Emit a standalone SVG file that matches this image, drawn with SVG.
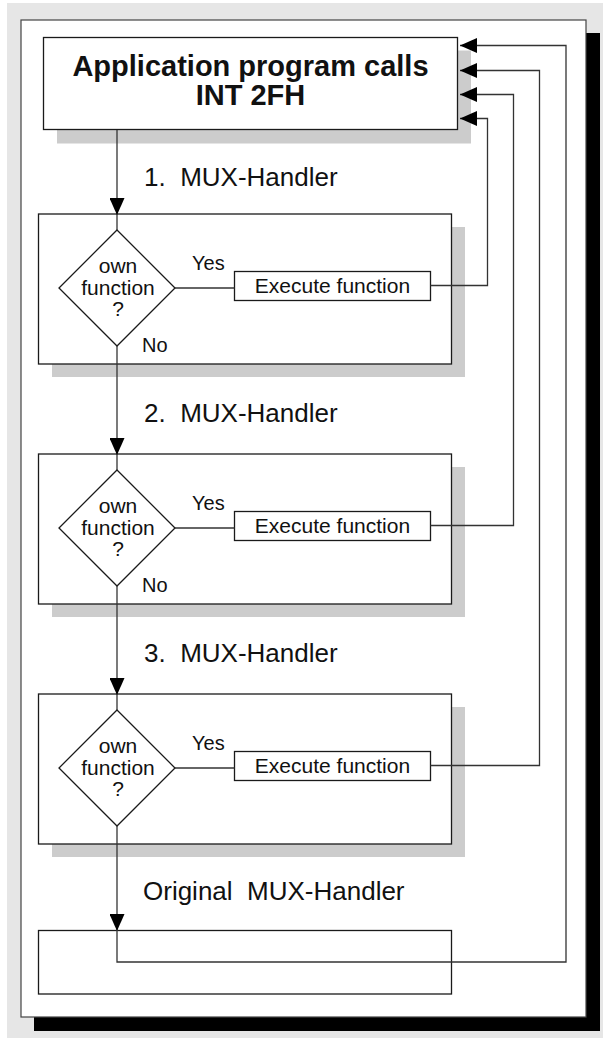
<svg xmlns="http://www.w3.org/2000/svg" width="603" height="1038" viewBox="0 0 603 1038">
<style>
.box{fill:#fff;stroke:#1a1a1a;stroke-width:1.3}
.shadow{fill:#cccccc}
.conn{fill:none;stroke:#333;stroke-width:1.3}
.t{font-family:"Liberation Sans",Arial,sans-serif;fill:#111}
.title{font-size:29px;font-weight:bold;text-anchor:middle}
.mux{font-size:26px;white-space:pre}
.dia{font-size:21px;text-anchor:middle}
.lbl{font-size:20px}
.exec{font-size:21px;text-anchor:middle}
</style>
<defs>
<marker id="arr" markerUnits="userSpaceOnUse" viewBox="0 0 17 15" refX="17" refY="7.5" markerWidth="17" markerHeight="15" orient="auto">
<path d="M0,0 L17,7.5 L0,15 Z" fill="#000"/>
</marker>
</defs>
<rect x="7" y="3" width="596" height="1035" fill="#e6e6e6"/>
<rect x="34" y="33" width="566" height="998" fill="#000"/>
<rect x="21" y="20" width="565" height="997" fill="#fff" stroke="#444" stroke-width="1.2"/>

<g id="app">
<rect class="shadow" x="57" y="50.5" width="414" height="93"/>
<rect class="box" x="43.5" y="37.5" width="414" height="92"/>
<text class="t title" x="250.5" y="76">Application program calls</text>
<text class="t title" x="250.5" y="105">INT 2FH</text>
</g>

<g id="handler1">
<rect class="shadow" x="52" y="227" width="413" height="150"/>
<rect class="box" x="38.5" y="214" width="413" height="150"/>
<path class="box" d="M117,230 L175,288 L117,346 L59,288 Z"/>
<text class="t dia" x="118" y="273">own</text>
<text class="t dia" x="118" y="295">function</text>
<text class="t dia" x="118" y="316">?</text>
<text class="t lbl" x="192" y="270">Yes</text>
<text class="t lbl" x="142" y="352">No</text>
<rect class="box" x="234.5" y="271.5" width="196" height="29"/>
<text class="t exec" x="332.5" y="293">Execute function</text>
</g>

<g id="handler2">
<rect class="shadow" x="52" y="467" width="413" height="150"/>
<rect class="box" x="38.5" y="454" width="413" height="150"/>
<path class="box" d="M117,470 L175,528 L117,586 L59,528 Z"/>
<text class="t dia" x="118" y="513">own</text>
<text class="t dia" x="118" y="535">function</text>
<text class="t dia" x="118" y="556">?</text>
<text class="t lbl" x="192" y="510">Yes</text>
<text class="t lbl" x="142" y="592">No</text>
<rect class="box" x="234.5" y="511.5" width="196" height="29"/>
<text class="t exec" x="332.5" y="533">Execute function</text>
</g>

<g id="handler3">
<rect class="shadow" x="52" y="707" width="413" height="150"/>
<rect class="box" x="38.5" y="694" width="413" height="150"/>
<path class="box" d="M117,710 L175,768 L117,826 L59,768 Z"/>
<text class="t dia" x="118" y="753">own</text>
<text class="t dia" x="118" y="775">function</text>
<text class="t dia" x="118" y="796">?</text>
<text class="t lbl" x="192" y="750">Yes</text>
<rect class="box" x="234.5" y="751.5" width="196" height="29"/>
<text class="t exec" x="332.5" y="773">Execute function</text>
</g>

<g id="original">
<rect class="box" x="38.5" y="930.5" width="413" height="63.5"/>
</g>

<g id="labels">
<text class="t mux" x="144" y="186">1.  MUX-Handler</text>
<text class="t mux" x="144" y="422">2.  MUX-Handler</text>
<text class="t mux" x="144" y="662">3.  MUX-Handler</text>
<text class="t mux" x="143" y="900">Original  MUX-Handler</text>
</g>

<g id="connectors">
<line class="conn" x1="117" y1="130" x2="117" y2="215" marker-end="url(#arr)"/>
<line class="conn" x1="117" y1="214" x2="117" y2="230"/>
<line class="conn" x1="117" y1="346" x2="117" y2="455" marker-end="url(#arr)"/>
<line class="conn" x1="117" y1="454" x2="117" y2="470"/>
<line class="conn" x1="117" y1="586" x2="117" y2="695" marker-end="url(#arr)"/>
<line class="conn" x1="117" y1="694" x2="117" y2="710"/>
<line class="conn" x1="117" y1="826" x2="117" y2="931" marker-end="url(#arr)"/>
<line class="conn" x1="175" y1="288" x2="234.5" y2="288"/>
<line class="conn" x1="175" y1="528" x2="234.5" y2="528"/>
<line class="conn" x1="175" y1="768" x2="234.5" y2="768"/>
<polyline class="conn" points="430.5,285.5 487.5,285.5 487.5,118.5 460,118.5" marker-end="url(#arr)"/>
<polyline class="conn" points="430.5,525.5 513.5,525.5 513.5,94.5 460,94.5" marker-end="url(#arr)"/>
<polyline class="conn" points="430.5,765.5 539.5,765.5 539.5,70.5 460,70.5" marker-end="url(#arr)"/>
<polyline class="conn" points="117,930 117,962 566,962 566,45.5 460,45.5" marker-end="url(#arr)"/>
</g>
</svg>
